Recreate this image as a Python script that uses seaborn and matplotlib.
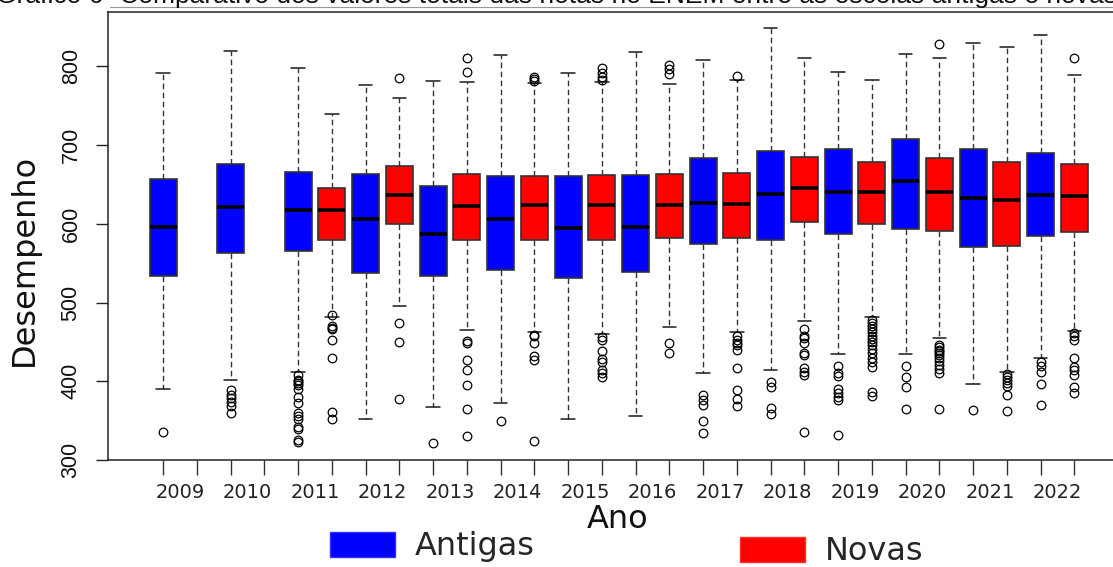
import matplotlib
matplotlib.use("Agg")
from matplotlib import pyplot as plt
from matplotlib.patches import Patch
import seaborn as sns

# Desempenho no ENEM: escolas antigas x novas, por ano
years = [2009, 2010, 2011, 2012, 2013, 2014, 2015, 2016, 2017, 2018, 2019, 2020, 2021, 2022]

# Antigas (azul)
ant_low = [390, 401, 412, 352, 367, 372, 352, 356, 411, 414, 435, 435, 396, 430]
ant_q1 = [534, 563, 565, 538, 534, 541, 531, 539, 574, 580, 587, 594, 571, 584]
ant_med = [596, 621, 618, 606, 587, 606, 595, 596, 626, 638, 641, 654, 633, 636]
ant_q3 = [657, 676, 666, 663, 648, 661, 661, 662, 684, 692, 695, 708, 695, 690]
ant_high = [792, 820, 798, 776, 781, 815, 792, 818, 808, 849, 793, 816, 830, 840]
ant_out = [
    [335],
    [389, 383, 379, 374, 368, 360],
    [408, 402, 400, 398, 395, 390, 380, 372, 360, 356, 352, 342, 340, 326, 323],
    [],
    [321],
    [349],
    [],
    [],
    [382, 376, 370, 349, 334],
    [399, 393, 366, 359],
    [420, 410, 407, 390, 385, 380, 376, 332],
    [419, 406, 393, 365],
    [363],
    [425, 419, 412, 397, 370],
]

# Novas (vermelho) - sem dados em 2009 e 2010
nov_low = [None, None, 482, 495, 465, 463, 460, 469, 462, 476, 482, 455, 412, 464]
nov_q1 = [None, None, 580, 600, 580, 580, 580, 582, 582, 602, 600, 591, 572, 590]
nov_med = [None, None, 617, 636, 622, 624, 624, 624, 625, 646, 641, 640, 630, 635]
nov_q3 = [None, None, 646, 673, 663, 661, 662, 663, 665, 685, 679, 684, 679, 676]
nov_high = [None, None, 740, 760, 780, 779, 780, 777, 782, 810, 782, 810, 824, 789]
nov_out = [
    [],
    [],
    [484, 470, 468, 466, 452, 429, 361, 352],
    [785, 474, 450, 378],
    [810, 793, 451, 448, 427, 414, 395, 365, 331],
    [787, 784, 781, 459, 457, 449, 432, 427, 324],
    [798, 792, 786, 783, 456, 452, 438, 428, 425, 414, 410, 406],
    [802, 797, 790, 449, 436],
    [788, 457, 453, 449, 446, 440, 417, 389, 377, 368],
    [467, 457, 455, 448, 436, 433, 417, 412, 408, 336],
    [478, 474, 470, 466, 462, 458, 454, 450, 446, 441, 436, 430, 424, 418, 387, 381],
    [828, 446, 443, 440, 438, 436, 433, 430, 426, 421, 415, 410, 365],
    [409, 406, 402, 398, 394, 383, 362],
    [810, 461, 457, 452, 429, 418, 414, 408, 393, 385],
]

sns.set_style("white")
plt.rcParams["font.family"] = ["DejaVu Sans"]


def make_stats(low, q1, med, q3, high, out):
    return {"whislo": low, "q1": q1, "med": med, "q3": q3, "whishi": high, "fliers": out}


fig = plt.figure(figsize=(11.13, 5.67), dpi=100)
ax = fig.add_axes([107.5 / 1113, 107 / 567, 1022.5 / 1113, 448 / 567])

common = dict(
    widths=0.8,
    capwidths=0.4,
    patch_artist=True,
    medianprops=dict(color="black", linewidth=2.6, solid_capstyle="butt"),
    whiskerprops=dict(color="#333333", linewidth=1.0, linestyle=(0, (4, 2.5))),
    capprops=dict(color="#1a1a1a", linewidth=1.1),
    flierprops=dict(marker="o", markersize=6.2, markerfacecolor="none",
                    markeredgecolor="black", markeredgewidth=0.9, linestyle="none"),
)

for i, year in enumerate(years):
    st = make_stats(ant_low[i], ant_q1[i], ant_med[i], ant_q3[i], ant_high[i], ant_out[i])
    ax.bxp([st], positions=[2 * i],
           boxprops=dict(facecolor="#0000FF", edgecolor="#333333", linewidth=1.2), **common)
    if nov_med[i] is not None:
        st = make_stats(nov_low[i], nov_q1[i], nov_med[i], nov_q3[i], nov_high[i], nov_out[i])
        ax.bxp([st], positions=[2 * i + 1],
               boxprops=dict(facecolor="#FF0000", edgecolor="#333333", linewidth=1.2), **common)

n_slots = 2 * len(years)
ax.set_xlim(-1.65, n_slots - 1 + 1.65)
ax.set_ylim(300, 869)

# ticks: one per box slot, labels centred on each year
ax.set_xticks(range(n_slots))
ax.set_xticklabels([""] * n_slots)
ax.set_xticks([2 * i + 0.5 for i in range(len(years))], minor=True)
ax.set_xticklabels([str(y) for y in years], minor=True, fontsize=14, color="#222222")
ax.tick_params(axis="x", which="major", direction="out", length=10.8, width=1.0,
               color="#333333", bottom=True)
ax.tick_params(axis="x", which="minor", length=0, pad=16.5, bottom=True)

ax.set_yticks([300, 400, 500, 600, 700, 800])
ax.set_yticklabels(["300", "400", "500", "600", "700", "800"], rotation=90, va="center",
                   fontsize=15.5, family="Liberation Sans", color="#111111")
ax.tick_params(axis="y", direction="out", length=8.6, width=1.0, color="#222222",
               pad=10, left=True)

for sp in ax.spines.values():
    sp.set_color("#222222")
    sp.set_linewidth(1.1)

ax.set_xlabel("Ano", fontsize=23, color="#111111")
ax.xaxis.set_label_coords(0.4993, -0.098)
ax.set_ylabel("Desempenho", fontsize=23, color="#111111")
ax.yaxis.set_label_coords(-0.066, 0.446)

# legend entries, placed apart below the axis
h_ant = [Patch(facecolor="#0000FF", edgecolor="#3030ff", label="Antigas")]
h_nov = [Patch(facecolor="#FF0000", edgecolor="#ff3030", label="Novas")]
leg_kw = dict(frameon=False, fontsize=23, handlelength=2.05, handleheight=0.85,
              handletextpad=0.6, borderpad=0, borderaxespad=0, loc="center left")
fig.legend(handles=h_ant, bbox_to_anchor=(330 / 1113, 1 - 547 / 567), **leg_kw)
fig.legend(handles=h_nov, bbox_to_anchor=(740 / 1113, 1 - 552 / 567), **leg_kw)

# caption of the figure, cut by the top edge of the picture
fig.text(-0.004, 1 - 3.5 / 567,
         "Gráfico 6- Comparativo dos valores totais das notas no ENEM entre as escolas antigas e novas",
         fontsize=19, family="Liberation Sans", va="baseline", ha="left", color="#111111")
fig.add_artist(plt.Line2D([110 / 1113, 1.0], [1 - 7 / 567, 1 - 7 / 567],
                          transform=fig.transFigure, color="#999999", linewidth=0.8))

fig.savefig("out.png", dpi=100)
